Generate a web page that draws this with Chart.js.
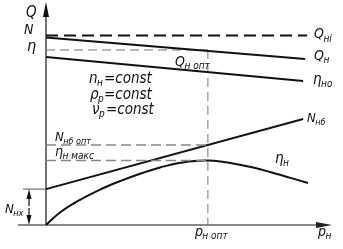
<!DOCTYPE html>
<html><head><meta charset="utf-8">
<script src="https://cdn.jsdelivr.net/npm/chart.js@4.4.1/dist/chart.umd.min.js"></script>
<style>html,body{margin:0;padding:0;background:#fff}#wrap{width:343px;height:249px}</style>
</head><body><div id="wrap"><canvas id="c" width="343" height="249"></canvas></div>
<script>
// Data (relative units: x 0..100 = feed p_н, y 0..100)
const pOpt = 56.6;
const qniX = [0, 91.3],  qniY = [85.0, 85.0];
const qnX  = [0, 90.6],  qnY  = [84.1, 74.4];
const etaNoX = [0, 89.9], etaNoY = [75.3, 64.6];
const etaRefY = 78.5;
const nNbX = [0, 89.9], nNbY = [16.1, 47.5];
const nOptY = 35.9;
const etaMaxY = 28.9;
const etaHX = [0, 4.9, 11.9, 18.9, 25.9, 32.9, 39.9, 46.9, 56.6, 67.8, 78.3, 91.6];
const etaHY = [0, 5.6, 11.3, 15.9, 19.7, 23.0, 25.8, 27.9, 28.9, 27.0, 23.8, 18.8];

const pts = (xs, ys) => xs.map((x, i) => ({x, y: ys[i]}));
const FONT = '"Liberation Sans Narrow","DejaVu Sans Condensed","Liberation Sans",sans-serif';

function ds(data, opts) {
  return Object.assign({data, borderColor:'#111', borderWidth:2, pointRadius:0, fill:false, tension:0, clip:false}, opts);
}

function sub(ctx, main, s, x, y, size) {
  ctx.font = 'italic ' + size + 'px ' + FONT;
  ctx.fillText(main, x, y);
  const w = ctx.measureText(main).width;
  if (s) {
    ctx.font = 'italic ' + Math.round(size*0.68) + 'px ' + FONT;
    ctx.fillText(s, x + w - 0.5, y + size*0.22);
    return w + ctx.measureText(s).width;
  }
  return w;
}

function arrowHead(ctx, tx, ty, dx, dy, len, hw) {
  const bx = tx - dx*len, by = ty - dy*len;
  ctx.beginPath();
  ctx.moveTo(tx, ty);
  ctx.lineTo(bx - dy*hw, by + dx*hw);
  ctx.lineTo(bx + dy*hw, by - dx*hw);
  ctx.closePath();
  ctx.fill();
}

const deco = {
  id: 'deco',
  beforeDatasetsDraw(chart) {
    const {ctx, scales:{x, y}} = chart;
    const x0 = x.getPixelForValue(0), y0 = y.getPixelForValue(0);
    const xr = x.getPixelForValue(100), yt = y.getPixelForValue(100);
    ctx.save();
    // x axis
    ctx.strokeStyle = '#8a8a8a'; ctx.lineWidth = 2;
    ctx.beginPath(); ctx.moveTo(18, y0); ctx.lineTo(xr - 10, y0); ctx.stroke();
    ctx.fillStyle = '#222';
    arrowHead(ctx, xr, y0, 1, 0, 16, 3);
    // y axis
    ctx.strokeStyle = '#444'; ctx.lineWidth = 1.5;
    ctx.beginPath(); ctx.moveTo(x0, y0); ctx.lineTo(x0, yt + 10); ctx.stroke();
    ctx.fillStyle = '#111';
    arrowHead(ctx, x0, yt, 0, -1, 15, 3);
    // N_нx dimension
    const yN = y.getPixelForValue(nNbY[0]);
    ctx.strokeStyle = '#555'; ctx.lineWidth = 1;
    ctx.beginPath(); ctx.moveTo(23, yN); ctx.lineTo(x0, yN); ctx.stroke();
    ctx.strokeStyle = '#111'; ctx.lineWidth = 1.2;
    ctx.beginPath(); ctx.moveTo(29, yN + 8); ctx.lineTo(29, y0 - 8); ctx.stroke();
    ctx.fillStyle = '#111';
    arrowHead(ctx, 29, yN, 0, -1, 10, 2.5);
    arrowHead(ctx, 29, y0, 0, 1, 10, 2.5);
    ctx.fillStyle = '#fff';
    ctx.fillRect(28, (yN + y0)/2 - 1, 2, 2);
    ctx.restore();
  },
  afterDraw(chart) {
    const {ctx, scales:{x, y}} = chart;
    const X = v => x.getPixelForValue(v), Y = v => y.getPixelForValue(v);
    ctx.save();
    ctx.fillStyle = '#111';
    ctx.textBaseline = 'alphabetic';
    // axis letters
    sub(ctx, 'Q', '', 26, 17, 15);
    sub(ctx, 'N', '', 24, 34, 14);
    sub(ctx, 'η', '', 27, 51, 16);
    // line end labels
    sub(ctx, 'Q', 'нi', 314, Y(qniY[1]) + 3, 14);
    sub(ctx, 'Q', 'н', 314, Y(qnY[1]) + 1, 14);
    sub(ctx, 'η', 'но', 313, Y(etaNoY[1]) + 3, 15);
    sub(ctx, 'N', 'нб', 307, Y(nNbY[1]) + 3, 13);
    sub(ctx, 'η', 'н', 275, 163, 15);
    sub(ctx, 'Q', 'н опт', 175, 66, 14);
    // conditions
    sub(ctx, 'n', 'н', 89, 83, 15); ctx.font = 'italic 15px ' + FONT; ctx.fillText('=const', 104, 83);
    sub(ctx, 'ρ', 'р', 90, 99, 15); ctx.font = 'italic 15px ' + FONT; ctx.fillText('=const', 104, 99);
    sub(ctx, 'ν', 'р', 92, 114, 15); ctx.font = 'italic 15px ' + FONT; ctx.fillText('=const', 106, 114);
    // left labels
    sub(ctx, 'N', 'нб опт', 55, Y(nOptY) - 4, 13);
    sub(ctx, 'η', 'н макс', 55, Y(etaMaxY) - 5, 14);
    sub(ctx, 'N', 'нx', 5, 213, 13);
    // x labels
    sub(ctx, 'p', 'н опт', X(pOpt) - 13, 236, 14);
    sub(ctx, 'p', 'н', 318, 236, 14);
    ctx.restore();
  }
};

new Chart(document.getElementById('c'), {
  type: 'line',
  data: {
    datasets: [
      ds(pts(qniX, qniY), {borderDash:[12,6]}),
      ds(pts(qnX, qnY)),
      ds(pts(etaNoX, etaNoY)),
      ds(pts([0, pOpt], [etaRefY, etaRefY]), {borderColor:'#777', borderWidth:1, borderDash:[9,5]}),
      ds(pts([pOpt, pOpt], [etaRefY, 0]), {borderColor:'#777', borderWidth:1, borderDash:[9,5]}),
      ds(pts([0, pOpt], [nOptY, nOptY]), {borderColor:'#888', borderWidth:1.5, borderDash:[10,5]}),
      ds(pts([0, pOpt], [etaMaxY, etaMaxY]), {borderColor:'#888', borderWidth:1.5, borderDash:[10,5]}),
      ds(pts(nNbX, nNbY)),
      ds(pts(etaHX, etaHY), {tension:0.4})
    ]
  },
  options: {
    responsive: false, animation: false, devicePixelRatio: 1,
    layout: {padding: {left:46, right:11, top:2, bottom:24}},
    plugins: {legend:{display:false}, tooltip:{enabled:false}},
    scales: {
      x: {type:'linear', min:0, max:100, display:false},
      y: {type:'linear', min:0, max:100, display:false}
    }
  },
  plugins: [deco]
});
</script>
</body></html>
